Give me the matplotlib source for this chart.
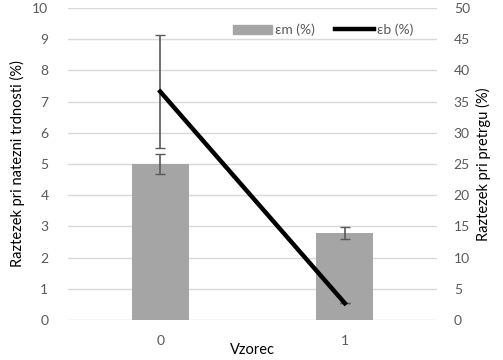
import numpy as np
import matplotlib
matplotlib.use("Agg")
import matplotlib.pyplot as plt
from matplotlib.lines import Line2D
from matplotlib.patches import Patch

plt.rcParams['font.family'] = ['Lato', 'DejaVu Sans']

samples = ["0", "1"]
em = [5.0, 2.8]          # bars, left axis
em_err = [0.32, 0.19]
eb = [36.6, 2.7]         # line, right axis
eb_err = [9.1, 0.0]

grey_txt = "#595959"
x = np.arange(len(samples))

fig = plt.figure(figsize=(5.03, 3.6), dpi=100)
ax = fig.add_axes([0.135, 0.111, 0.734, 0.867])
ax2 = ax.twinx()

ax.bar(x, em, width=0.31, color="#a5a5a5", zorder=2)
ax.errorbar(x, em, yerr=em_err, fmt="none", ecolor="#595959", elinewidth=1.2,
            capsize=3.5, capthick=1.0, zorder=3)

ax2.plot(x, eb, color="black", lw=3.2, zorder=4)
ax2.errorbar(x, eb, yerr=eb_err, fmt="none", ecolor="#595959", elinewidth=1.2,
             capsize=3.5, capthick=1.0, zorder=3)

ax.set_xlim(-0.5, 1.5)
ax.set_ylim(0, 10)
ax.set_yticks(np.arange(0, 11, 1))
ax2.set_ylim(0, 50)
ax2.set_yticks(np.arange(0, 51, 5))
ax.set_xticks(x)
ax.set_xticklabels(samples)

ax.grid(axis="y", color="#d9d9d9", lw=1.0, zorder=0)
ax.set_axisbelow(True)
for a in (ax, ax2):
    for s in a.spines.values():
        s.set_visible(False)
    a.tick_params(length=0, colors=grey_txt, labelsize=10)
ax.tick_params(axis="y", pad=14)
ax2.tick_params(axis="y", pad=12)
ax.tick_params(axis="x", pad=11)

ax.set_xlabel("Vzorec", fontsize=10.5, labelpad=-3)
ax.set_ylabel("Raztezek pri natezni trdnosti (%)", fontsize=10.5, labelpad=5)
ax2.set_ylabel("Raztezek pri pretrgu (%)", fontsize=10.5, labelpad=4)

handles = [Patch(color="#a5a5a5"), Line2D([], [], color="black", lw=3.2)]
ax2.legend(handles, ["εm (%)", "εb (%)"], loc="upper right", ncol=2,
           bbox_to_anchor=(0.97, 0.99), frameon=False, fontsize=10,
           labelcolor=grey_txt, handlelength=2.8, handleheight=0.6,
           columnspacing=1.5, handletextpad=0.2)

fig.savefig("out.png", dpi=100)
